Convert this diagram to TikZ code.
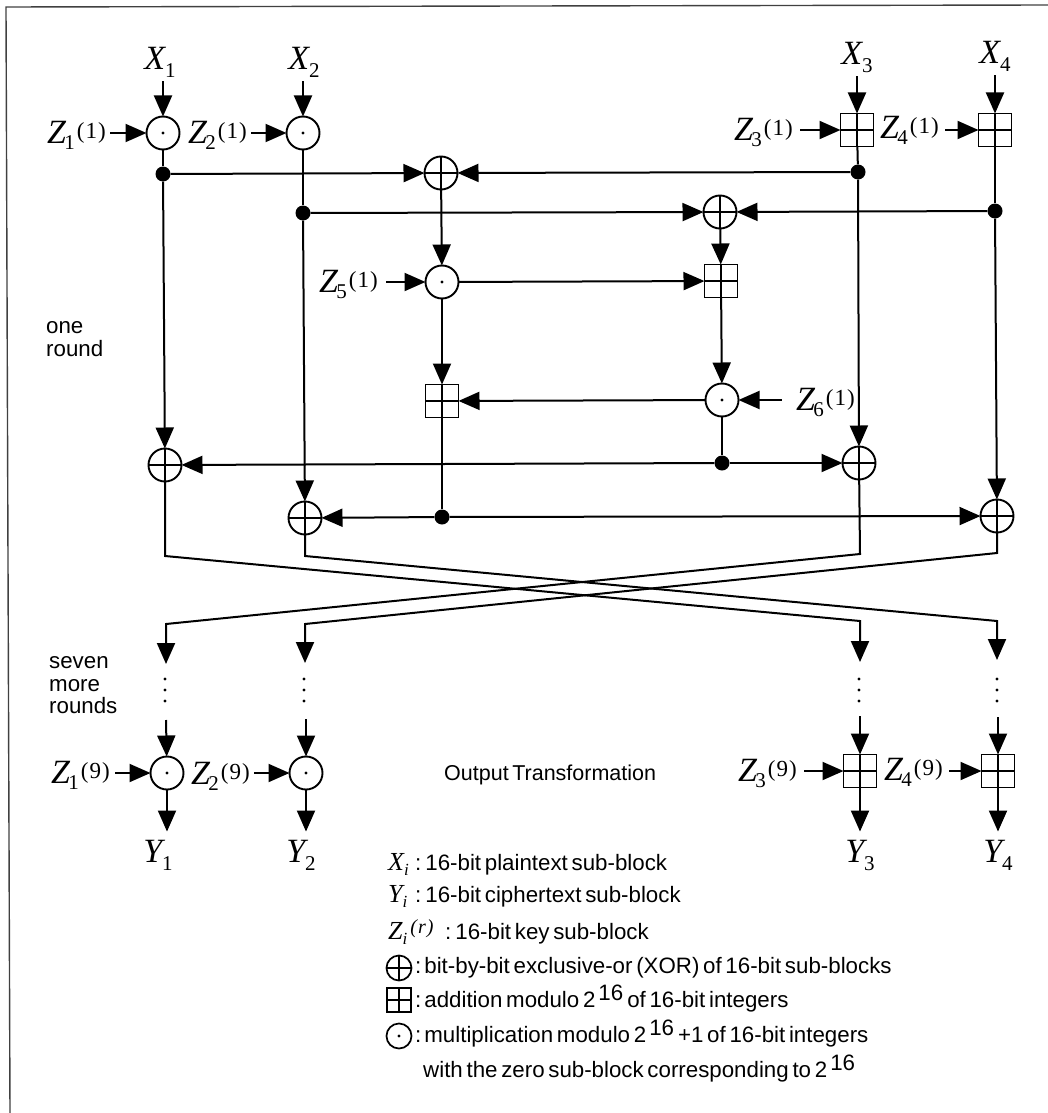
\documentclass[tikz,border=0pt]{standalone}
\usepackage{fontspec}
\usetikzlibrary{arrows.meta}
\setmainfont{Liberation Serif}
\newfontfamily\hv[WordSpace=0.6]{Liberation Sans}
\newcommand{\bigf}{\fontsize{34}{34}\selectfont\itshape}
\newcommand{\subf}{\fontsize{21}{21}\selectfont\upshape}
\newcommand{\supf}{\fontsize{23}{23}\selectfont\upshape}
\newcommand{\XL}[2]{#1\kern0pt\raisebox{-8pt}{\subf #2}}
\newcommand{\ZL}[2]{Z\kern-1.5pt\raisebox{-6pt}{\subf #1}\kern1pt\raisebox{5pt}{\supf\kern1pt(\kern1pt#2\kern1pt)}}
\newcommand{\legit}[2]{\makebox[27pt][l]{\fontfamily{\rmdefault}\fontsize{26}{26}\selectfont\itshape #1\kern0pt\raisebox{-5pt}{\fontsize{17}{17}\selectfont #2}}}
\newcommand{\pw}[1]{\kern3pt\raisebox{7pt}{#1}\kern4pt}
\tikzset{
  x=1pt,y=-1pt,
  opbase/.style={draw,line width=1.9pt,inner sep=0pt,outer sep=0pt,minimum size=#1},
  mulop/.style={opbase=#1,circle,path picture={\fill (path picture bounding box.center) circle (1.6pt);}},
  xorop/.style={opbase=#1,circle,path picture={\draw[line width=1.6pt] (path picture bounding box.north) -- (path picture bounding box.south) (path picture bounding box.west) -- (path picture bounding box.east);}},
  addop/.style={opbase=#1,rectangle,path picture={\draw[line width=1.6pt] (path picture bounding box.north) -- (path picture bounding box.south) (path picture bounding box.west) -- (path picture bounding box.east);}},
  junction/.style={circle,fill=black,inner sep=0pt,minimum size=15pt},
  conn/.style={line width=2pt,line join=miter},
  arr/.style={conn,-{Triangle[length=21pt,width=18pt]}},
  biglab/.style={inner sep=0pt,font=\bigf},
  sans/.style={inner sep=0pt,anchor=base west,font=\hv\fontsize{22.3}{22.3}\selectfont},
  dotmark/.style={circle,fill=black,inner sep=0pt,minimum size=3.2pt},
  framel/.style={line width=1.4pt,black!75},
}
\begin{document}
\begin{tikzpicture}
\useasboundingbox (0,0) rectangle (1048,1113);
% frame
\coordinate (fb) at (6,7); \coordinate (fc) at (1048,5); \coordinate (fd) at (10,1113);
\draw[framel] (fd) -- (fb) -- (fc);
% top row
\node[mulop=33pt] (m1) at (163,133) {};
\node[mulop=33pt] (m2) at (303,133) {};
\node[addop=33pt] (a3) at (857,130) {};
\node[addop=33pt] (a4) at (995,130) {};
% labels
\node[biglab,anchor=base] (X1) at (160,70) {\XL{X}{1}};
\node[biglab,anchor=base] (X2) at (304,70) {\XL{X}{2}};
\node[biglab,anchor=base] (X3) at (857,65) {\XL{X}{3}};
\node[biglab,anchor=base] (X4) at (995,64) {\XL{X}{4}};
\node[biglab,anchor=base east] (Z1) at (106,143) {\ZL{1}{1}};
\node[biglab,anchor=base east] (Z2) at (247,143) {\ZL{2}{1}};
\node[biglab,anchor=base east] (Z3) at (793,140) {\ZL{3}{1}};
\node[biglab,anchor=base east] (Z4) at (939,139) {\ZL{4}{1}};
\node[biglab,anchor=base east] (Z5) at (378,292) {\ZL{5}{1}};
\node[biglab,anchor=base east] (Z6) at (855,410) {\ZL{6}{1}};
% inner operations
\node[xorop=33pt] (x1) at (441,173) {};
\node[xorop=33pt] (x2) at (720,212) {};
\node[mulop=33pt] (m5) at (442,282) {};
\node[addop=33pt] (a5) at (721,281) {};
\node[addop=33pt] (a6) at (442,401) {};
\node[mulop=33pt] (m6) at (722,400) {};
\node[xorop=33pt] (xa) at (165,465) {};
\node[xorop=33pt] (xb) at (305,518) {};
\node[xorop=33pt] (xc) at (859,463) {};
\node[xorop=33pt] (xd) at (997,516) {};
% junctions
\node[junction] (j1) at (163,174) {};
\node[junction] (j2) at (303,213) {};
\node[junction] (j3) at (858,172) {};
\node[junction] (j4) at (995,211) {};
\node[junction] (j5) at (722,463) {};
\node[junction] (j6) at (442,517) {};
% input arrows
\foreach \l/\o in {X1/m1,X2/m2,X3/a3,X4/a4}
  \draw[arr,shorten <=3pt] (\l.south -| \o) -- (\o);
\foreach \l/\o/\g in {Z1/m1/4,Z2/m2/4,Z3/a3/7,Z4/a4/6,Z5/m5/8}
  \draw[arr,shorten <=\g pt] (\l.east |- \o) -- (\o);
\draw[arr,shorten <=14pt] (Z6.west |- m6) -- (m6);
% round
\draw[conn] (m1) -- (j1);
\draw[arr] (j1) -- (xa);
\draw[conn] (m2) -- (j2);
\draw[arr] (j2) -- (xb);
\draw[conn] (a3) -- (j3);
\draw[arr] (j3) -- (xc);
\draw[conn] (a4) -- (j4);
\draw[arr] (j4) -- (xd);
\draw[arr] (j1) -- (x1);
\draw[arr] (j3) -- (x1);
\draw[arr] (j2) -- (x2);
\draw[arr] (j4) -- (x2);
\draw[arr] (x1) -- (m5);
\draw[arr] (x2) -- (a5);
\draw[arr] (m5) -- (a5);
\draw[arr] (m5) -- (a6);
\draw[arr] (a5) -- (m6);
\draw[arr] (m6) -- (a6);
\draw[conn] (m6) -- (j5);
\draw[arr] (j5) -- (xa);
\draw[arr] (j5) -- (xc);
\draw[conn] (a6) -- (j6);
\draw[arr] (j6) -- (xb);
\draw[arr] (j6) -- (xd);
% crossing
\coordinate (ca) at (165,556); \coordinate (cb) at (305,556);
\coordinate (cc) at (860,554); \coordinate (cd) at (997,553);
\coordinate (ea) at (166,624); \coordinate (eb) at (305,624);
\coordinate (ec) at (860,621); \coordinate (ed) at (997,621);
\coordinate (ta) at (166,664); \coordinate (tb) at (305,663);
\coordinate (tc) at (860,662); \coordinate (td) at (997,660);
\draw[arr] (xa) -- (ca) -- (ec) -- (tc);
\draw[arr] (xb) -- (cb) -- (ed) -- (td);
\draw[arr] (xc) -- (cc) -- (ea) -- (ta);
\draw[arr] (xd) -- (cd) -- (eb) -- (tb);
% dots
\foreach \n/\x in {a/165,b/304,c/859,d/997}{
  \node[dotmark] (d\n1) at (\x,679) {};
  \node[dotmark] (d\n2) at (\x,690) {};
  \node[dotmark] (d\n3) at (\x,701) {};
}
% output transformation
\node[mulop=33pt] (mo1) at (167,773) {};
\node[mulop=33pt] (mo2) at (306,773) {};
\node[addop=33pt] (ao3) at (860,771) {};
\node[addop=33pt] (ao4) at (998,771) {};
\coordinate (ra) at (166,720); \coordinate (rb) at (306,719);
\coordinate (rc) at (860,716); \coordinate (rd) at (998,717);
\draw[arr] (ra) -- (mo1);
\draw[arr] (rb) -- (mo2);
\draw[arr] (rc) -- (ao3);
\draw[arr] (rd) -- (ao4);
\node[biglab,anchor=base east] (W1) at (110,783) {\ZL{1}{9}};
\node[biglab,anchor=base east] (W2) at (250,784) {\ZL{2}{9}};
\node[biglab,anchor=base east] (W3) at (797,781) {\ZL{3}{9}};
\node[biglab,anchor=base east] (W4) at (943,780) {\ZL{4}{9}};
\foreach \l/\o/\g in {W1/mo1/5,W2/mo2/4,W3/ao3/7,W4/ao4/6}
  \draw[arr,shorten <=\g pt] (\l.east |- \o) -- (\o);
\node[biglab,anchor=base] (Y1) at (158,862) {\XL{Y}{1}};
\node[biglab,anchor=base] (Y2) at (301,862) {\XL{Y}{2}};
\node[biglab,anchor=base] (Y3) at (860,862) {\XL{Y}{3}};
\node[biglab,anchor=base] (Y4) at (998,862) {\XL{Y}{4}};
\foreach \l/\o in {Y1/mo1,Y2/mo2,Y3/ao3,Y4/ao4}
  \draw[arr,shorten >=8pt] (\o) -- (\l.north -| \o);
% side texts
\node[sans] (t1) at (46,333) {one};
\node[sans] (t2) at (46,356) {round};
\node[sans] (t3) at (49,668) {seven};
\node[sans] (t4) at (49,691) {more};
\node[sans] (t5) at (49,713) {rounds};
\node[sans,font=\hv\fontsize{21.5}{21.5}\selectfont] (t6) at (444,780) {Output Transformation};
% legend
\node[sans] (l1) at (388,870) {\legit{X}{i}:\kern4pt 16-bit plaintext sub-block};
\node[sans] (l2) at (388,902) {\legit{Y}{i}:\kern4pt 16-bit ciphertext sub-block};
\node[sans] (l3) at (388,939) {\makebox[57pt][l]{\fontfamily{\rmdefault}\fontsize{26}{26}\selectfont\itshape Z\kern0pt\raisebox{-5pt}{\fontsize{17}{17}\selectfont i}\kern3pt\raisebox{6pt}{\fontsize{20}{20}\selectfont (\kern1pt r\kern1pt)}}:\kern4pt 16-bit key sub-block};
\node[xorop=25pt,line width=1.7pt] (s1) at (399,968) {};
\node[addop=24pt,line width=1.7pt] (s2) at (399,1000) {};
\node[mulop=25pt,line width=1.7pt] (s3) at (399,1036) {};
\node[sans] (l4) at (415,973) {:\kern3pt bit-by-bit exclusive-or (XOR) of 16-bit sub-blocks};
\node[sans] (l5) at (415,1007) {:\kern3pt addition modulo 2\pw{16}of 16-bit integers};
\node[sans] (l6) at (415,1042) {:\kern3pt multiplication modulo 2\pw{16}+1 of 16-bit integers};
\node[sans] (l7) at (423,1077) {with the zero sub-block corresponding to 2\pw{16}};
\end{tikzpicture}
\end{document}
